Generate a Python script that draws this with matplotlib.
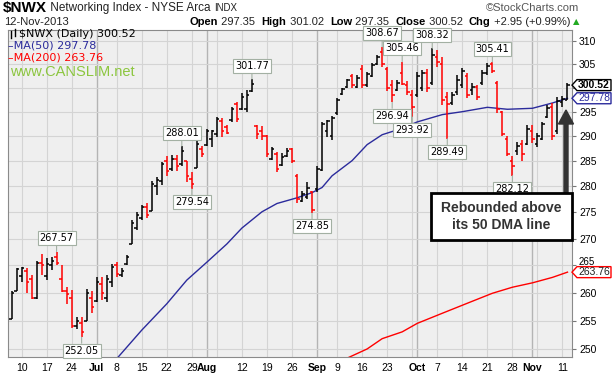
import pandas as pd
import matplotlib
matplotlib.use('Agg')
import matplotlib.pyplot as plt
from matplotlib.patches import Polygon, Rectangle, FancyArrow
from matplotlib.lines import Line2D
from matplotlib.transforms import IdentityTransform, ScaledTranslation
from matplotlib.ticker import FixedLocator, FuncFormatter, NullLocator, NullFormatter

# daily OHLC of $NWX, 6-Jun-2013 .. 12-Nov-2013
opens = [255.3, 260.3, 263.0, 264.0, 262.5, 259.0, 265.5, 263.0, 265.0, 266.5,
         262.5, 260.3, 259.0, 254.0, 254.5, 255.0, 259.0, 258.5, 261.5, 259.0,
         262.0, 265.0, 263.2, 265.2, 269.0, 272.0, 274.0, 276.0, 275.3, 280.0,
         281.0, 285.0, 283.5, 285.5, 284.5, 285.0, 281.5, 283.7, 287.5, 288.2,
         289.5, 290.5, 293.0, 291.8, 293.2, 296.5, 295.6, 295.5, 299.2, 292.0,
         291.0, 290.0, 285.5, 286.5, 284.2, 286.0, 287.5, 282.0, 277.2, 278.0,
         279.0, 279.5, 283.3, 291.0, 290.0, 294.8, 298.7, 300.2, 302.5, 300.2,
         304.0, 300.5, 302.5, 305.0, 307.5, 304.0, 300.5, 299.5, 303.0, 300.5,
         298.5, 298.5, 300.0, 303.0, 301.0, 306.5, 305.0, 298.0, 296.8, 299.0,
         300.5, 302.5, 299.5, 300.2, 301.0, 303.0, 305.0, 301.0, 295.0, 289.5,
         285.0, 287.0, 288.5, 288.5, 291.0, 288.5, 289.5, 294.0, 296.0, 291.0,
         297.0, 297.35]
highs = [260.3, 264.6, 264.8, 264.6, 263.3, 265.9, 267.2, 266.3, 266.5, 267.57,
         265.0, 261.0, 260.5, 255.7, 255.7, 260.6, 260.4, 262.8, 262.8, 263.2,
         265.2, 265.6, 264.6, 267.0, 273.5, 275.0, 276.5, 276.7, 281.0, 281.8,
         284.8, 286.0, 286.3, 286.3, 288.01, 285.0, 282.9, 289.3, 288.0, 291.5,
         291.3, 293.9, 293.7, 292.3, 296.0, 297.0, 298.8, 299.5, 301.77, 292.3,
         292.1, 290.3, 287.9, 286.9, 286.7, 287.7, 287.7, 282.5, 279.2, 280.9,
         279.2, 284.0, 292.9, 293.3, 294.2, 297.8, 300.0, 301.9, 302.9, 302.6,
         304.8, 303.2, 305.2, 306.9, 308.67, 304.3, 301.6, 301.6, 305.46, 301.3,
         299.5, 303.2, 303.7, 303.9, 308.32, 308.0, 306.5, 299.0, 299.0, 302.6,
         304.1, 303.0, 301.0, 300.6, 303.7, 305.2, 305.41, 301.3, 295.2, 290.1,
         286.0, 288.9, 289.3, 292.3, 292.3, 290.7, 292.9, 296.4, 296.8, 298.0,
         298.3, 301.02]
lows = [255.3, 260.3, 262.0, 259.9, 258.8, 258.8, 263.2, 262.4, 264.1, 265.0,
        260.1, 258.0, 253.6, 253.5, 252.05, 254.9, 256.4, 258.3, 258.6, 258.3,
        261.0, 262.8, 262.8, 265.0, 269.0, 271.6, 273.5, 273.9, 275.2, 278.3,
        280.2, 282.1, 283.0, 283.0, 284.0, 280.9, 279.54, 283.6, 285.9, 288.0,
        287.8, 289.9, 289.9, 290.5, 292.9, 292.9, 295.4, 295.0, 299.0, 289.5,
        289.3, 285.9, 285.2, 282.9, 284.0, 285.9, 284.6, 276.7, 276.9, 277.5,
        274.85, 279.0, 283.0, 289.9, 289.3, 294.4, 298.5, 299.9, 300.0, 299.9,
        299.9, 300.1, 302.2, 304.8, 304.3, 299.2, 296.94, 299.2, 300.5, 298.5,
        293.92, 298.0, 299.2, 299.0, 300.6, 304.3, 296.4, 289.49, 296.4, 298.5,
        299.9, 297.8, 298.5, 297.4, 300.6, 302.6, 303.1, 294.8, 290.0, 286.0,
        282.12, 286.3, 285.0, 288.3, 288.7, 287.9, 289.3, 293.7, 289.3, 290.5,
        296.0, 297.35]
closes = [260.0, 264.3, 264.5, 262.0, 259.0, 265.5, 265.0, 265.3, 265.8, 265.4,
          260.3, 259.8, 254.0, 255.0, 253.0, 260.0, 257.5, 262.0, 260.0, 262.5,
          264.8, 263.5, 264.0, 266.5, 273.0, 274.5, 276.0, 274.5, 280.5, 281.2,
          284.5, 283.0, 285.5, 284.0, 287.0, 282.0, 280.5, 288.5, 286.5, 291.0,
          291.1, 293.5, 291.0, 290.7, 295.5, 293.5, 298.0, 298.5, 300.8, 290.5,
          290.0, 286.5, 287.5, 283.5, 285.8, 287.0, 285.0, 277.5, 278.5, 279.8,
          275.5, 283.5, 292.5, 293.0, 293.8, 297.5, 299.8, 301.5, 300.5, 302.0,
          300.5, 302.8, 304.8, 306.5, 305.0, 300.0, 298.5, 301.0, 300.8, 299.0,
          296.0, 302.5, 303.0, 300.0, 307.0, 305.5, 297.5, 296.5, 298.5, 301.5,
          303.5, 298.5, 300.2, 298.0, 303.0, 304.5, 303.5, 295.5, 290.5, 286.5,
          284.0, 288.0, 286.5, 291.5, 289.5, 290.0, 292.5, 295.8, 290.0, 297.3,
          297.57, 300.52]

# moving averages read at a few bars
ma50_idx = [21, 26, 31, 35, 39, 43, 46, 50, 53, 57, 60, 62, 64, 68, 71, 74,
            78, 81, 86, 90, 95, 99, 104, 108, 111]
ma50_val = [248.3, 253.3, 258.0, 262.3, 265.6, 269.0, 272.0, 275.1, 276.7, 277.8,
            278.8, 279.8, 282.1, 285.1, 288.3, 290.3, 291.6, 292.9, 294.4, 295.0,
            295.9, 295.5, 295.7, 296.8, 297.78]
ma200_idx = [67, 71, 74, 78, 81, 86, 91, 96, 100, 104, 108, 111]
ma200_val = [248.4, 250.0, 251.8, 253.0, 254.5, 256.3, 258.1, 259.9, 261.0, 261.8,
             262.8, 263.76]

high_marks = [9, 34, 48, 74, 78, 84, 96]
low_marks = [14, 36, 60, 76, 80, 87, 100]

dates = pd.bdate_range('2013-06-06', '2013-11-12')
dates = dates[~dates.isin(pd.to_datetime(['2013-07-04', '2013-09-02']))]

W, H = 616, 376
fig = plt.figure(figsize=(W / 100, H / 100), dpi=100)
fig.patch.set_facecolor('white')
ax = fig.add_axes([8 / W, (H - 357) / H, 564 / W, 327 / H])
ax.set_facecolor('#efefef')

n = len(closes)
xs = list(range(n))
colors = ['black'] + ['black' if closes[i] >= closes[i - 1] else '#ff0000' for i in range(1, n)]

ax.vlines(xs, lows, highs, colors=colors, lw=1.1, zorder=3)
ax.hlines(opens, [x - 0.5 for x in xs], xs, colors=colors, lw=1.1, zorder=3)
ax.hlines(closes, xs, [x + 0.5 for x in xs], colors=colors, lw=1.1, zorder=3)

ax.plot(ma50_idx, ma50_val, color='#2b2b9c', lw=1.0, zorder=2)
ax.plot(ma200_idx, ma200_val, color='#ff0000', lw=1.0, zorder=2)

ax.set_yscale('log')
ax.set_ylim(248.6, 312.3)
ax.set_xlim(-0.7, 111.9)
ax.yaxis.set_major_locator(FixedLocator(list(range(250, 315, 5))))
# the 300 label sits under the close tag, as on the original
ax.yaxis.set_major_formatter(FuncFormatter(lambda v, p: '' if round(v) == 300 else f'{v:.0f}'))
ax.yaxis.set_minor_locator(NullLocator())
ax.yaxis.set_minor_formatter(NullFormatter())
ax.yaxis.tick_right()
ax.tick_params(axis='y', length=3, color='#777777', labelsize=7.5, pad=2)

# x ticks: month starts and Mondays
month_pos, week_pos, labels, pos = [], [], [], []
for i, d in enumerate(dates):
    if i > 0 and d.month != dates[i - 1].month:
        month_pos.append(i)
for i, d in enumerate(dates):
    if i in month_pos:
        pos.append(i)
        labels.append(d.strftime('%b'))
    elif d.weekday() == 0:
        week_pos.append(i)
        if all(abs(i - m) > 2 for m in month_pos):
            pos.append(i)
            labels.append(str(d.day))
ax.set_xticks(pos)
ax.set_xticklabels(labels)
ax.tick_params(axis='x', length=0, labelsize=7.5, pad=4)
for lab in ax.get_xticklabels():
    lab.set_family('Liberation Sans')
    if not lab.get_text().isdigit():
        lab.set_fontweight('bold')

fig.canvas.draw()
for tk in ax.yaxis.get_major_ticks():
    tk.label2.set_family('Liberation Sans')
    if abs(tk.get_loc() - 265) < 0.1:
        # nudge up a little so the 263.76 tag does not cover it
        tk.label2.set_transform(tk.label2.get_transform() + ScaledTranslation(0, 3 / 72, fig.dpi_scale_trans))
        tk.label2.set_fontsize(7)

for p in week_pos:
    if p not in month_pos:
        ax.axvline(p, color='#d4d4d4', lw=0.8, zorder=0)
for p in month_pos:
    ax.axvline(p, color='#b4b4b4', lw=1.0, zorder=0)
for v in range(250, 315, 5):
    ax.axhline(v, color='#d4d4d4', lw=0.8, zorder=0)
for s in ax.spines.values():
    s.set_color('#8a8a8a')
    s.set_linewidth(0.8)

# price callouts
box = dict(boxstyle='square,pad=0.2', fc='white', ec='#a3b0a3', lw=0.8)
arr = dict(arrowstyle='-', color='#a3b0a3', lw=0.8, shrinkA=0, shrinkB=0)
for i in high_marks:
    ax.annotate(f'{highs[i]:.2f}', xy=(i, highs[i]), xytext=(0, 6), textcoords='offset points',
                ha='center', va='bottom', fontsize=7, family='DejaVu Sans', bbox=box, arrowprops=arr, zorder=5)
for i in low_marks:
    ax.annotate(f'{lows[i]:.2f}', xy=(i, lows[i]), xytext=(0, -6), textcoords='offset points',
                ha='center', va='top', fontsize=7, family='DejaVu Sans', bbox=box, arrowprops=arr, zorder=5)


def fx(x):
    return x / W


def fy(y):
    return 1 - y / H


# value tags on the right axis
def tag(price, text, ec, tc, bold=False):
    yp = ax.transData.transform((0, price))[1]
    y = H - yp
    pts = [(572, y), (577, y - 5.5), (611, y - 5.5), (611, y + 5.5), (577, y + 5.5)]
    fig.add_artist(Polygon([(fx(a), fy(b)) for a, b in pts], closed=True, fc='white', ec=ec,
                           lw=1.0, transform=fig.transFigure, zorder=6))
    fig.text(fx(594), fy(y), text, ha='center', va='center', fontsize=7.5, color=tc,
             family='Liberation Sans', fontweight='bold' if bold else 'normal', zorder=7)


tag(263.76, '263.76', '#ff0000', '#222222')
tag(297.78, '297.78', '#2b2b9c', '#2b2b9c')
tag(300.52, '300.52', 'black', 'black', bold=True)

# header
renderer = fig.canvas.get_renderer()


def chain(x, y, parts):
    for txt, size, weight, color in parts:
        t = fig.text(fx(x), fy(y), txt, fontsize=size, fontweight=weight, color=color,
                     family='Liberation Sans', va='center', ha='left')
        x += t.get_window_extent(renderer).width
    return x


chain(3, 8, [('$NWX', 11, 'bold', 'black'), (' Networking Index - NYSE Arca ', 8.5, 'normal', '#222222'),
             ('INDX', 7, 'normal', '#222222')])
fig.text(fx(579), fy(8), '\u00a9StockCharts.com', fontsize=8, color='#555555',
         family='Liberation Sans', ha='right', va='center')
fig.text(fx(4), fy(22), '12-Nov-2013', fontsize=8, color='#222222', family='Liberation Sans', va='center')
xe = chain(190, 22, [('Open', 8, 'bold', 'black'), (' 297.35  ', 8, 'normal', '#222222'),
                     ('High', 8, 'bold', 'black'), (' 301.02  ', 8, 'normal', '#222222'),
                     ('Low', 8, 'bold', 'black'), (' 297.35  ', 8, 'normal', '#222222'),
                     ('Close', 8, 'bold', 'black'), (' 300.52  ', 8, 'normal', '#222222'),
                     ('Chg', 8, 'bold', 'black'), (' +2.95 (+0.99%) ', 8, 'normal', '#222222')])
fig.text(fx(xe), fy(22), '\u25b2', fontsize=6, color='#22aa22', va='center', ha='left')

# legend inside plot
for lx, ly0, ly1 in [(11, 31, 38), (15, 29, 36)]:
    fig.add_artist(Line2D([lx, lx], [H - ly0, H - ly1], color='black', lw=1, transform=IdentityTransform()))
fig.text(fx(19), fy(34), '$NWX (Daily) 300.52', fontsize=8, color='black', va='center', family='DejaVu Sans')
fig.text(fx(8), fy(45.5), '\u2013MA(50) 297.78', fontsize=8, color='#2b2b9c', va='center', family='DejaVu Sans')
fig.text(fx(8), fy(57), '\u2013MA(200) 263.76', fontsize=8, color='#ff0000', va='center', family='DejaVu Sans')
fig.text(fx(10), fy(72), 'www.CANSLIM.net', fontsize=10.5, color='#8cc63f', va='center', family='Liberation Sans')

# comment box with arrow
fig.add_artist(FancyArrow(566, H - 193, 0, -(110 - 193), width=4, head_width=15, head_length=14,
                          length_includes_head=True, fc='#333333', ec='#333333',
                          transform=IdentityTransform(), zorder=8))
fig.add_artist(Rectangle((fx(431), fy(240)), fx(141), 47 / H, fc='white', ec='black', lw=2,
                         transform=fig.transFigure, zorder=9))
fig.text(fx(501), fy(208), 'Rebounded above', fontsize=10, fontweight='bold', color='#333333',
         family='Liberation Sans', ha='center', va='center', zorder=10)
fig.text(fx(501), fy(225), 'its 50 DMA line', fontsize=10, fontweight='bold', color='#333333',
         family='Liberation Sans', ha='center', va='center', zorder=10)

fig.savefig('out.png', dpi=100)
